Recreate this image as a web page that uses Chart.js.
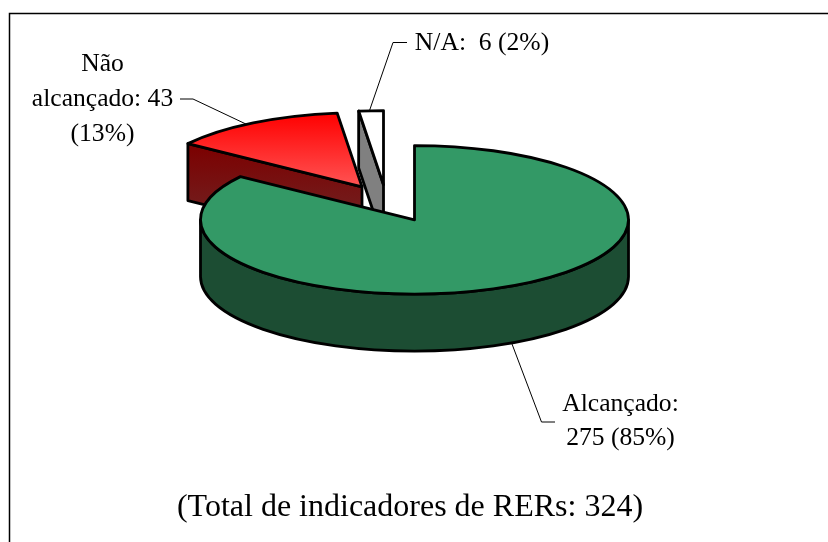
<!DOCTYPE html>
<html>
<head>
<meta charset="utf-8">
<style>html,body{margin:0;padding:0;background:#fff}canvas{display:block}</style>
<script src="https://cdn.jsdelivr.net/npm/chart.js@4"></script>
</head>
<body>
<canvas id="c" width="828" height="542"></canvas>
<script>
const categories = ['Alcançado', 'Não alcançado', 'N/A'];
const values = [275, 43, 6];
const totalLabel = '(Total de indicadores de RERs: 324)';

const FONT = '"Liberation Serif","Times New Roman",serif';
const TILT = 0.347, DEPTH = 57, EDGE = 2.8;
const shiftX = [4.5, -48, -26.5];
const shiftY = [0, -33, -35];
const calloutLines = [
  {lines:['Alcançado:','275 (85%)'], x:620.5, y:[404,438], path:[[512,344],[541.5,422],[555,422]]},
  {lines:['Não','alcançado: 43','(13%)'], x:102.5, y:[64,99,134], path:[[180,99],[193,99],[248,125]]},
  {lines:['N/A:  6 (2%)'], x:482, y:[43], path:[[407,42.5],[393,42.5],[369,112]]}
];

function vGrad(ctx, y0, y1, a, b){
  const g = ctx.createLinearGradient(0,y0,0,y1);
  g.addColorStop(0,a); g.addColorStop(1,b); return g;
}
function finish(ctx, fill){
  ctx.fillStyle = fill; ctx.fill();
  ctx.lineWidth = EDGE; ctx.lineJoin='round'; ctx.strokeStyle='#000'; ctx.stroke();
}
function pt(g, a){ return [g.x + g.r*Math.cos(a), g.y + g.r*TILT*Math.sin(a)]; }
function topFace(ctx, g, fill){
  ctx.beginPath(); ctx.moveTo(g.x,g.y);
  ctx.ellipse(g.x,g.y,g.r,g.r*TILT,0,g.a0,g.a1);
  ctx.closePath(); finish(ctx,fill);
}
function cutFace(ctx, g, a, fill){
  const p = pt(g,a);
  ctx.beginPath(); ctx.moveTo(g.x,g.y); ctx.lineTo(p[0],p[1]);
  ctx.lineTo(p[0],p[1]+DEPTH); ctx.lineTo(g.x,g.y+DEPTH); ctx.closePath();
  finish(ctx,fill);
}
function rimWall(ctx, g, a0, a1, fill){
  ctx.beginPath();
  ctx.ellipse(g.x,g.y,g.r,g.r*TILT,0,a0,a1);
  ctx.ellipse(g.x,g.y+DEPTH,g.r,g.r*TILT,0,a1,a0,true);
  ctx.closePath(); finish(ctx,fill);
}

const pie3d = {
  id:'pie3d',
  beforeDatasetDraw(chart){
    const ctx = chart.ctx;
    const arcs = chart.getDatasetMeta(0).data;
    const geo = arcs.map((el,i)=>{
      const p = el.getProps(['x','y','startAngle','endAngle','outerRadius'],true);
      return {x:p.x+shiftX[i], y:p.y+shiftY[i], r:p.outerRadius, a0:p.startAngle, a1:p.endAngle};
    });
    const [green, red, white] = geo;
    ctx.save();
    // frame
    ctx.strokeStyle='#000'; ctx.lineWidth=1.5;
    ctx.beginPath(); ctx.moveTo(9.5,542); ctx.lineTo(9.5,13.5); ctx.lineTo(828,13.5); ctx.stroke();
    // callout leaders
    ctx.lineWidth=1; ctx.strokeStyle='#000';
    calloutLines.forEach(c=>{
      ctx.beginPath();
      c.path.forEach((q,i)=> i?ctx.lineTo(q[0],q[1]):ctx.moveTo(q[0],q[1]));
      ctx.stroke();
    });
    // red slice
    cutFace(ctx, red, red.a0, vGrad(ctx,144,240,'#7c0000','#6e2a2a'));
    topFace(ctx, red, vGrad(ctx,113,188,'#ff0000','#ff5555'));
    // white slice
    cutFace(ctx, white, white.a0, '#808080');
    topFace(ctx, white, '#ffffff');
    // green slice
    rimWall(ctx, green, 0, Math.PI, '#1c4d33');
    topFace(ctx, green, '#339966');
    // labels
    ctx.fillStyle='#000'; ctx.font='25.6px '+FONT; ctx.textAlign='center'; ctx.textBaseline='middle';
    calloutLines.forEach(c=>c.lines.forEach((t,i)=>ctx.fillText(t,c.x,c.y[i])));
    ctx.restore();
    return false;
  }
};

new Chart(document.getElementById('c'), {
  type:'pie',
  data:{labels:categories, datasets:[{data:values, backgroundColor:['#339966','#ff0000','#ffffff'], radius:214}]},
  plugins:[pie3d],
  options:{
    responsive:false, animation:false,
    layout:{padding:{left:0,right:8,top:0,bottom:0}},
    events:[],
    plugins:{
      legend:{display:false}, tooltip:{enabled:false},
      title:{display:true, text:totalLabel, position:'bottom', color:'#000',
        font:{family:FONT, size:32, weight:'normal'}, padding:{top:49,bottom:15}}
    }
  }
});
</script>
</body>
</html>
